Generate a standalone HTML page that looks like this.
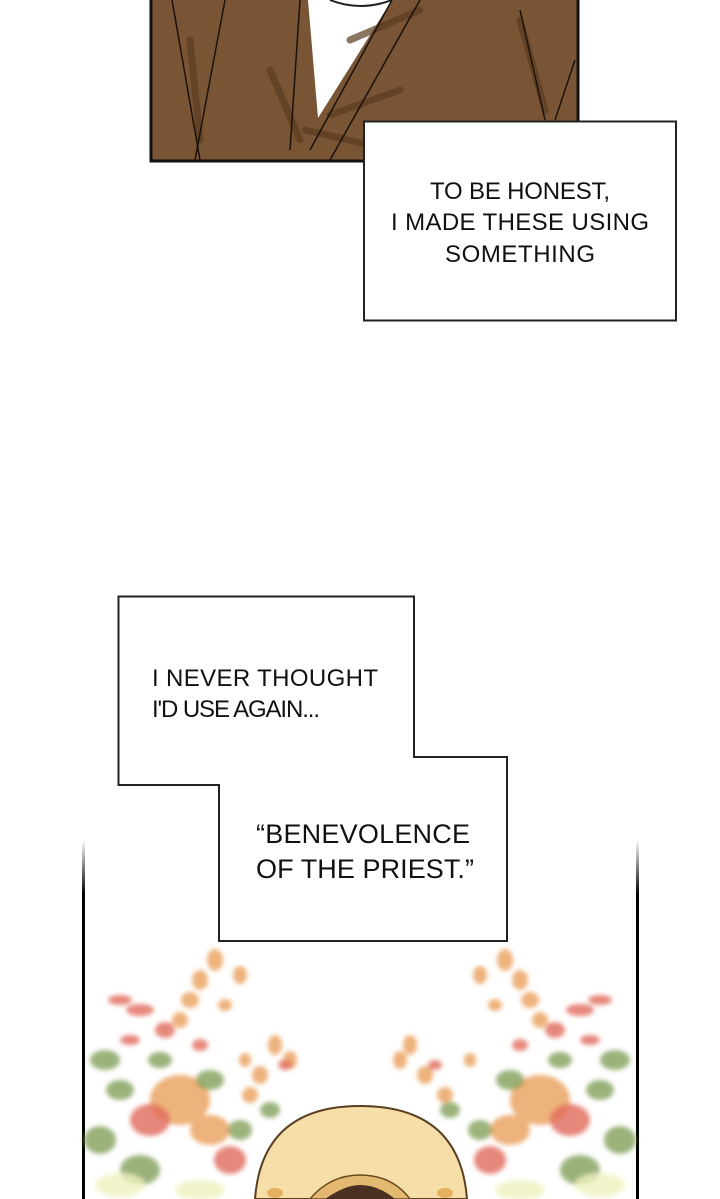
<!DOCTYPE html>
<html><head><meta charset="utf-8"><style>
html,body{margin:0;padding:0;background:#fff;width:720px;height:1199px;overflow:hidden}
svg{display:block}
text{font-family:"Liberation Sans",sans-serif;font-size:24px;fill:#111;text-anchor:middle}
</style></head><body>
<svg width="720" height="1199" viewBox="0 0 720 1199">
<defs>
<filter id="b" x="-20%" y="-20%" width="140%" height="140%"><feGaussianBlur stdDeviation="2.5"/></filter>
<linearGradient id="fadeL" x1="0" y1="0" x2="0" y2="1"><stop offset="0" stop-color="#000" stop-opacity="0"/><stop offset="0.15" stop-color="#000" stop-opacity="1"/></linearGradient>
</defs>
<rect x="151" y="-5" width="427" height="166" fill="#7a5535" stroke="#111" stroke-width="3"/>
<polygon points="308,0 392,0 318,118" fill="#fff"/>
<path d="M330,0 Q360,12 392,0" stroke="#222" stroke-width="2" fill="none"/>
<g stroke="#5a3a20" stroke-width="7" stroke-linecap="round" opacity="0.7" fill="none">
<path d="M190,40 L200,140"/><path d="M270,70 L300,140"/><path d="M350,40 L420,10"/><path d="M400,90 L330,115"/><path d="M520,20 L545,110"/><path d="M305,130 L370,145"/>
</g>
<g stroke="#1a120a" stroke-width="1.5" fill="none">
<path d="M172,0 L200,160"/><path d="M225,0 L195,160"/><path d="M300,0 L290,150"/><path d="M392,0 L310,150"/><path d="M420,0 L330,160"/><path d="M520,10 L545,120"/><path d="M575,60 L555,120"/>
</g>
<rect x="364" y="121.5" width="312" height="199" fill="#fff" stroke="#222" stroke-width="2"/>
<text x="520" y="199" textLength="180">TO BE HONEST,</text>
<text x="520" y="230" textLength="258">I MADE THESE USING</text>
<text x="520" y="262" textLength="150">SOMETHING</text>
<rect x="82" y="840" width="3" height="360" fill="url(#fadeL)"/>
<rect x="636" y="840" width="3" height="360" fill="url(#fadeL)"/>
<g filter="url(#b)">
<g fill="#eba565" opacity="0.85">
<ellipse cx="215" cy="960" rx="8" ry="11"/><ellipse cx="200" cy="980" rx="8" ry="10"/><ellipse cx="190" cy="1000" rx="9" ry="8"/><ellipse cx="240" cy="975" rx="7" ry="9"/><ellipse cx="180" cy="1020" rx="8" ry="8"/><ellipse cx="225" cy="1005" rx="7" ry="6"/>
<ellipse cx="505" cy="960" rx="8" ry="11"/><ellipse cx="520" cy="980" rx="8" ry="10"/><ellipse cx="530" cy="1000" rx="9" ry="8"/><ellipse cx="480" cy="975" rx="7" ry="9"/><ellipse cx="540" cy="1020" rx="8" ry="8"/><ellipse cx="495" cy="1005" rx="7" ry="6"/>
<ellipse cx="275" cy="1045" rx="7" ry="10"/><ellipse cx="290" cy="1060" rx="7" ry="9"/><ellipse cx="260" cy="1075" rx="8" ry="9"/><ellipse cx="250" cy="1095" rx="8" ry="8"/><ellipse cx="245" cy="1060" rx="6" ry="7"/>
<ellipse cx="410" cy="1045" rx="7" ry="10"/><ellipse cx="400" cy="1060" rx="7" ry="9"/><ellipse cx="425" cy="1075" rx="8" ry="9"/><ellipse cx="445" cy="1095" rx="8" ry="8"/><ellipse cx="470" cy="1060" rx="6" ry="7"/>
<ellipse cx="180" cy="1100" rx="30" ry="25"/><ellipse cx="540" cy="1100" rx="30" ry="25"/>
<ellipse cx="210" cy="1130" rx="20" ry="15"/><ellipse cx="510" cy="1130" rx="20" ry="15"/>
</g>
<g fill="#e06a5a" opacity="0.8">
<ellipse cx="165" cy="1030" rx="10" ry="8"/><ellipse cx="140" cy="1010" rx="14" ry="6"/><ellipse cx="120" cy="1000" rx="12" ry="5"/><ellipse cx="200" cy="1045" rx="8" ry="6"/><ellipse cx="130" cy="1040" rx="10" ry="5"/>
<ellipse cx="555" cy="1030" rx="10" ry="8"/><ellipse cx="580" cy="1010" rx="14" ry="6"/><ellipse cx="600" cy="1000" rx="12" ry="5"/><ellipse cx="520" cy="1045" rx="8" ry="6"/><ellipse cx="590" cy="1040" rx="10" ry="5"/>
<ellipse cx="150" cy="1120" rx="20" ry="16"/><ellipse cx="230" cy="1160" rx="16" ry="14"/>
<ellipse cx="570" cy="1120" rx="20" ry="16"/><ellipse cx="490" cy="1160" rx="16" ry="14"/>
<ellipse cx="285" cy="1065" rx="7" ry="5"/><ellipse cx="435" cy="1065" rx="7" ry="5"/>
</g>
<g fill="#7a9a50" opacity="0.75">
<ellipse cx="105" cy="1060" rx="15" ry="10"/><ellipse cx="120" cy="1090" rx="14" ry="10"/><ellipse cx="100" cy="1140" rx="16" ry="14"/><ellipse cx="210" cy="1080" rx="14" ry="10"/><ellipse cx="140" cy="1170" rx="20" ry="15"/><ellipse cx="240" cy="1130" rx="12" ry="10"/><ellipse cx="160" cy="1060" rx="12" ry="8"/><ellipse cx="270" cy="1110" rx="10" ry="8"/>
<ellipse cx="615" cy="1060" rx="15" ry="10"/><ellipse cx="600" cy="1090" rx="14" ry="10"/><ellipse cx="620" cy="1140" rx="16" ry="14"/><ellipse cx="510" cy="1080" rx="14" ry="10"/><ellipse cx="580" cy="1170" rx="20" ry="15"/><ellipse cx="480" cy="1130" rx="12" ry="10"/><ellipse cx="560" cy="1060" rx="12" ry="8"/><ellipse cx="450" cy="1110" rx="10" ry="8"/>
</g>
<g fill="#f0f2c0" opacity="0.8">
<ellipse cx="120" cy="1185" rx="25" ry="12"/><ellipse cx="200" cy="1190" rx="25" ry="10"/><ellipse cx="600" cy="1185" rx="25" ry="12"/><ellipse cx="520" cy="1190" rx="25" ry="10"/>
</g>
</g>
<path d="M255,1199 Q262,1106 360,1106 Q460,1106 467,1199 Z" fill="#f5deA8" stroke="#5a4020" stroke-width="2"/>
<path d="M310,1199 Q330,1175 360,1175 Q392,1175 410,1199 Z" fill="#e3b870" stroke="#6a4a20" stroke-width="1.5"/>
<path d="M325,1199 Q345,1185 360,1185 Q378,1185 395,1199 Z" fill="#4a3020"/>
<ellipse cx="275" cy="1193" rx="8" ry="5" fill="#e3b060"/><ellipse cx="445" cy="1193" rx="8" ry="5" fill="#e3b060"/>
<polygon points="118.5,596.5 414,596.5 414,757 507,757 507,941 219,941 219,785 118.5,785" fill="#fff" stroke="#222" stroke-width="2"/>
<text x="152" y="686" style="text-anchor:start" textLength="226">I NEVER THOUGHT</text>
<text x="152" y="717" style="text-anchor:start" textLength="168">I'D USE AGAIN...</text>
<text x="256" y="843" style="text-anchor:start;font-size:27px" textLength="214">“BENEVOLENCE</text>
<text x="256" y="878" style="text-anchor:start;font-size:27px" textLength="218">OF THE PRIEST.”</text>
</svg>
</body></html>
